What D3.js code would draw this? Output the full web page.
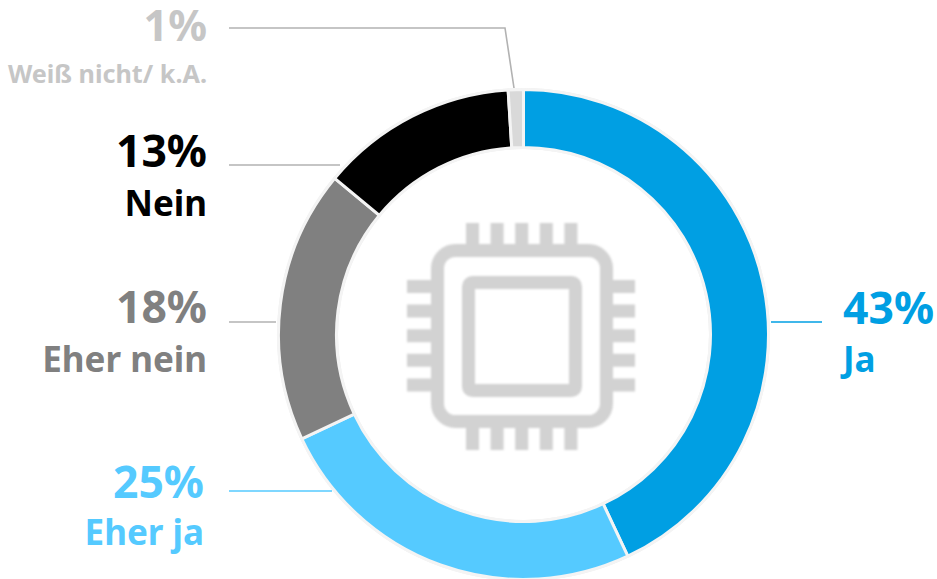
<!DOCTYPE html>
<html lang="de">
<head>
<meta charset="utf-8">
<script src="https://cdn.jsdelivr.net/npm/d3@7/dist/d3.min.js"></script>
<style>
html,body{margin:0;padding:0;background:#fff}
svg{display:block}
text{font-family:"Noto Sans",sans-serif;font-weight:700}
</style>
</head>
<body>
<svg id="chart" width="937" height="579"></svg>
<script>
// Survey answers, clockwise from twelve o'clock
const categories = ["Ja", "Eher ja", "Eher nein", "Nein", "Weiß nicht/ k.A."];
const shares = [43, 25, 18, 13, 1];
const sliceColors = ["#009fe3", "#55caff", "#808080", "#000000", "#d9d9d9"];
const textColors = ["#009fe3", "#55caff", "#808080", "#000000", "#c6c6c6"];
const leaderColors = ["#009fe3", "#55caff", "#b2b2b2", "#b2b2b2", "#b2b2b2"];

// Label placement per category: anchor x, baselines, type sizes, leader path
const labelLayout = [
  {x: 843, anchor: "start", pctY: 324, nameY: 372, pctSize: 44.5, nameSize: 35, leader: [[771, 322], [822, 322]]},
  {x: 204, anchor: "end", pctY: 498, nameY: 545, pctSize: 44.5, nameSize: 35, leader: [[229, 491], [332, 491]]},
  {x: 207, anchor: "end", pctY: 323, nameY: 372, pctSize: 44.5, nameSize: 35, leader: [[229, 322], [276, 322]]},
  {x: 207, anchor: "end", pctY: 167, nameY: 216, pctSize: 44.5, nameSize: 35, leader: [[229, 165], [340, 165]]},
  {x: 207, anchor: "end", pctY: 41, nameY: 83, pctSize: 43, nameSize: 25.2, leader: [[229, 28], [505, 28], [514, 88]]}
];

const cx = 523.5, cy = 334.5, outerR = 245, innerR = 187;
const svg = d3.select("#chart");

// Chip icon in the middle of the ring
const icon = svg.append("g")
  .attr("fill", "none").attr("stroke", "#d2d2d2").attr("stroke-width", 13)
  .style("filter", "blur(0.8px)");
icon.append("rect").attr("x", 437.5).attr("y", 250.5).attr("width", 169).attr("height", 171).attr("rx", 18);
icon.append("rect").attr("x", 468.5).attr("y", 282.5).attr("width", 107).attr("height", 108).attr("rx", 4);
const pinOffsets = d3.range(5).map(i => i * 24.6);
icon.selectAll("path.pin-v").data(pinOffsets).join("path").attr("class", "pin-v")
  .attr("d", d => `M${472.5 + d},223V245M${472.5 + d},428V450`);
icon.selectAll("path.pin-h").data(pinOffsets).join("path").attr("class", "pin-h")
  .attr("d", d => `M407,${286.5 + d}H431M613,${286.5 + d}H635`);

// Ring with a pale halo behind white-separated slices
const arc = d3.arc().innerRadius(innerR).outerRadius(outerR);
const halo = d3.arc().innerRadius(innerR - 1.5).outerRadius(outerR + 1.5).startAngle(0).endAngle(2 * Math.PI);
const ring = svg.append("g").attr("transform", `translate(${cx},${cy})`);
ring.append("path").attr("d", halo()).attr("fill", "#efefef");
const pie = d3.pie().sort(null).value(d => d)(shares);
ring.selectAll("path.slice").data(pie).join("path").attr("class", "slice")
  .attr("d", arc)
  .attr("fill", (d, i) => sliceColors[i])
  .attr("stroke", "#f4f4f4").attr("stroke-width", 3);

// Leader lines
const line = d3.line();
svg.selectAll("path.leader").data(labelLayout).join("path").attr("class", "leader")
  .attr("d", d => line(d.leader))
  .attr("fill", "none").attr("stroke-width", 1.6)
  .attr("stroke", (d, i) => leaderColors[i]);

// Percent figures and answer names
const labels = svg.selectAll("g.label").data(labelLayout).join("g").attr("class", "label")
  .attr("fill", (d, i) => textColors[i])
  .attr("text-anchor", d => d.anchor);
labels.append("text").attr("x", d => d.x).attr("y", d => d.pctY)
  .attr("font-size", d => d.pctSize)
  .text((d, i) => shares[i] + "%");
labels.append("text").attr("x", d => d.x).attr("y", d => d.nameY)
  .attr("font-size", d => d.nameSize)
  .text((d, i) => categories[i]);
</script>
</body>
</html>
